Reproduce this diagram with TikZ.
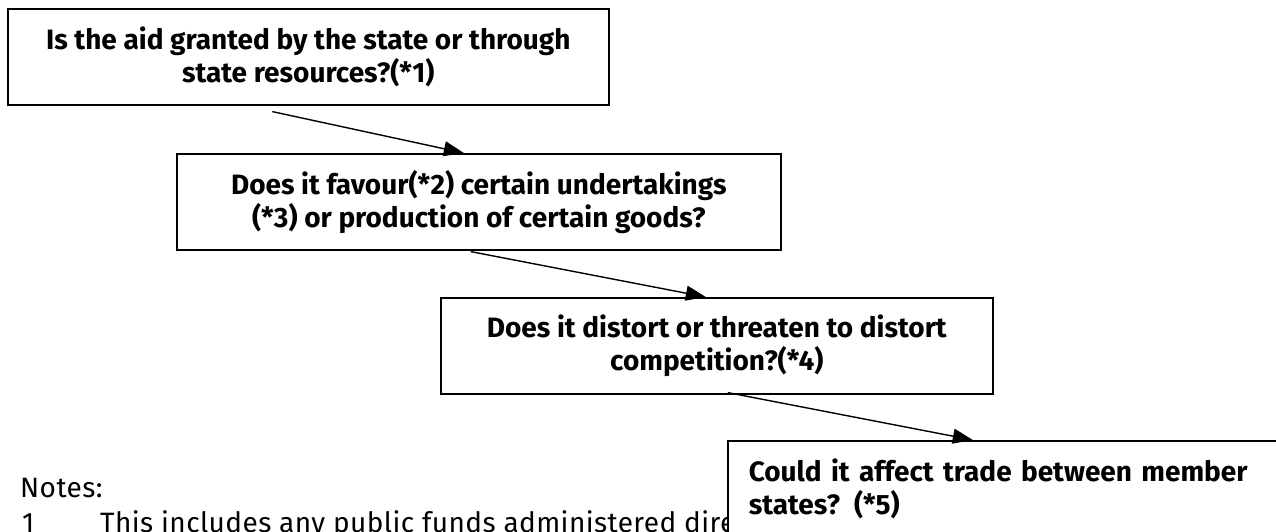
\documentclass[tikz,border=0pt]{standalone}
\usepackage{fontspec}
\setmainfont{Fira Sans}
\usetikzlibrary{arrows.meta}

\begin{document}
\begin{tikzpicture}[x=1pt, y=-1pt, >={Triangle[length=20pt,width=15pt]},
        question/.style={draw, line width=1.6pt, fill=white, anchor=north west, inner sep=0pt,
            minimum height=96pt, align=center, font=\bfseries\fontsize{28}{33}\selectfont},
        note/.style={anchor=base west, inner sep=0pt, font=\fontsize{28}{33}\selectfont\addfontfeatures{LetterSpace=1.5}}]
        \useasboundingbox (0,0) rectangle (1276,531);
        \clip (0,0) rectangle (1276,531);
        \node (notes) [note] at (20,497) {Notes:};
        \node (n1) [note] at (22,532) {1};
        \node (n1text) [note] at (100,532) {This includes any public funds administered dire};
        \node (q1) [question, minimum width=601pt] at (7,8) {Is the aid granted by the state or through\\state resources?(*1)};
        \node (q2) [question, minimum width=604pt] at (176,153) {Does it favour(*2) certain undertakings\\(*3) or production of certain goods?};
        \node (q3) [question, minimum width=552pt] at (440,297) {Does it distort or threaten to distort\\competition?(*4)};
        \node (q4) [question, minimum width=552pt, align=left, text width=520pt, inner xsep=21pt] at (727,440) {Could it affect trade between member\\states? (*5)};
        \draw [->, line width=1.4pt] ([shift={(-36,6)}]q1.south) to ([xshift=-15pt]q2.north);
        \draw [->, line width=1.4pt] ([shift={(-8,1)}]q2.south) to ([xshift=-11pt]q3.north);
        \draw [->, line width=1.4pt] ([shift={(11,-2)}]q3.south) to ([xshift=-36pt]q4.north);
    \end{tikzpicture}
\end{document}
